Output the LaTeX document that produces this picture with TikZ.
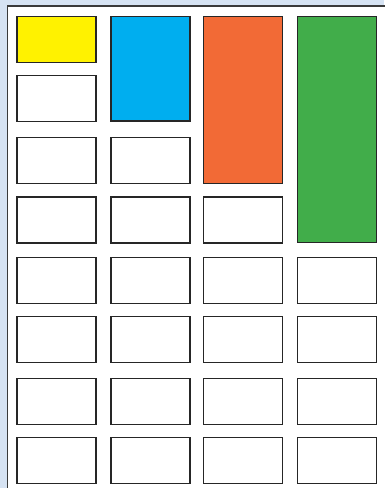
\documentclass[tikz,border=0pt]{standalone}
\usetikzlibrary{positioning}
\definecolor{bgblue}{HTML}{D6E3F3}
\definecolor{cyellow}{HTML}{FFF200}
\definecolor{cblue}{HTML}{00AEEF}
\definecolor{corange}{HTML}{F26A36}
\definecolor{cgreen}{HTML}{41AD4A}
\definecolor{frame}{HTML}{3A3A3A}
\begin{document}
\begin{tikzpicture}[x=1pt,y=-1pt,
  cell/.style={draw=black!85,line width=1.3pt,fill=white,rectangle,inner sep=0pt,outer sep=0pt,anchor=north west,minimum width=79pt},
  cellh/.style={minimum height=#1pt}]
\useasboundingbox (0,0) rectangle (384,488);
\fill[bgblue] (0,0) rectangle (384,488);
\fill[white] (7.5,6) rectangle (390,495);
\draw[frame,line width=1.5pt] (7.5,495) -- (7.5,6) -- (390,6);
% column x positions (line centres)
\def\ca{17}\def\cb{111}\def\cc{203.5}\def\cd{297.5}
% colored tall boxes
\node[cell,fill=cyellow,cellh=46] (y1) at (\ca,16.5) {};
\node[cell,fill=cblue,cellh=104.5] (b1) at (\cb,16.5) {};
\node[cell,fill=corange,cellh=167] (o1) at (\cc,16.5) {};
\node[cell,fill=cgreen,cellh=226] (g1) at (\cd,16.5) {};
% column 1
\node[cell,cellh=46] (a2) at (\ca,75.5) {};
\node[cell,cellh=46] (a3) at (\ca,137.5) {};
\node[cell,cellh=46] (a4) at (\ca,197) {};
\node[cell,cellh=46] (a5) at (\ca,257.5) {};
\node[cell,cellh=46] (a6) at (\ca,316.5) {};
\node[cell,cellh=46] (a7) at (\ca,378.5) {};
\node[cell,cellh=46] (a8) at (\ca,437.5) {};
% column 2
\node[cell,cellh=46] (b3) at (\cb,137.5) {};
\node[cell,cellh=46] (b4) at (\cb,197) {};
\node[cell,cellh=46] (b5) at (\cb,257.5) {};
\node[cell,cellh=46] (b6) at (\cb,316.5) {};
\node[cell,cellh=46] (b7) at (\cb,378.5) {};
\node[cell,cellh=46] (b8) at (\cb,437.5) {};
% column 3
\node[cell,cellh=46] (c4) at (\cc,197) {};
\node[cell,cellh=46] (c5) at (\cc,257.5) {};
\node[cell,cellh=46] (c6) at (\cc,316.5) {};
\node[cell,cellh=46] (c7) at (\cc,378.5) {};
\node[cell,cellh=46] (c8) at (\cc,437.5) {};
% column 4
\node[cell,cellh=46] (d5) at (\cd,257.5) {};
\node[cell,cellh=46] (d6) at (\cd,316.5) {};
\node[cell,cellh=46] (d7) at (\cd,378.5) {};
\node[cell,cellh=46] (d8) at (\cd,437.5) {};
\end{tikzpicture}
\end{document}
